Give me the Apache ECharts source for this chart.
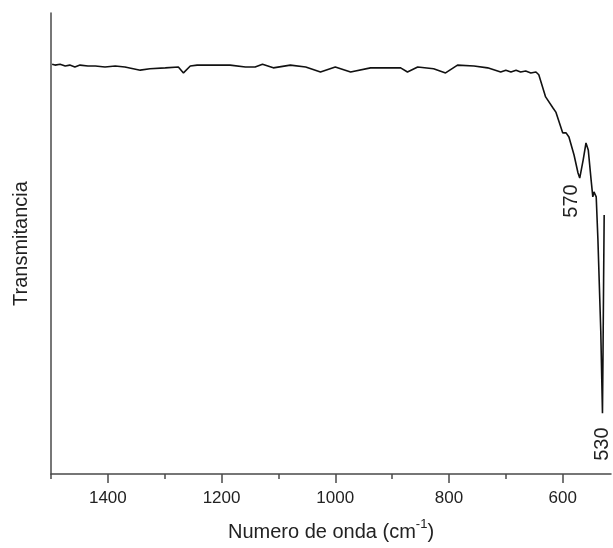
<!DOCTYPE html>
<html>
<head>
<meta charset="utf-8">
<script src="https://cdn.jsdelivr.net/npm/echarts@6/dist/echarts.min.js"></script>
<style>
  html, body { margin: 0; padding: 0; background: #fff; }
  #chart { width: 613px; height: 548px; }
</style>
</head>
<body>
<div id="chart"></div>
<script>
// FT-IR spectrum: wavenumber (cm^-1) vs. relative transmittance (arbitrary units)
const wavenumber = [
  1498, 1493, 1484, 1475, 1467, 1458, 1449, 1435, 1422, 1405, 1387, 1370,
  1343, 1326, 1299, 1276, 1267, 1255, 1243, 1185, 1158, 1141, 1128, 1109,
  1079, 1052, 1026, 1000, 973, 938, 885, 873, 855, 827, 806, 785, 756, 732,
  709, 700, 691, 682, 674, 665, 656, 647, 642, 630, 617, 612, 600, 594, 589,
  580, 573, 570, 564, 559, 555, 550, 547, 545, 541, 538, 533, 530, 529, 528, 527
];
const transmittance = [
  88.9, 88.7, 88.9, 88.5, 88.7, 88.3, 88.7, 88.5, 88.5, 88.3, 88.5, 88.3,
  87.6, 87.9, 88.1, 88.3, 87.0, 88.5, 88.7, 88.7, 88.3, 88.3, 88.9, 88.1,
  88.7, 88.3, 87.2, 88.3, 87.2, 88.1, 88.1, 87.2, 88.3, 87.9, 87.0, 88.7, 88.5, 88.1,
  87.2, 87.6, 87.2, 87.6, 87.2, 87.4, 87.0, 87.2, 86.6, 81.8, 79.4, 78.5, 74.0, 74.0, 73.1,
  69.2, 65.3, 64.2, 68.1, 71.8, 70.3, 63.8, 60.1, 61.2, 60.1, 50.8, 31.0, 13.2, 26.9, 42.0, 56.2
];
// Annotated absorption bands
const peakPositions = [570, 530];

// Axis ticks
const majorTicks = [600, 800, 1000, 1200, 1400];
const minorTicks = [700, 900, 1100, 1300, 1500];

const FONT = 'Liberation Sans, Arial, sans-serif';
const AXIS_COLOR = '#4a4a4a';

const points = wavenumber.map((w, i) => [w, transmittance[i]]);

// label offsets are given in the rotated (90°) text frame: [-down, right]
const labelOffsets = [[-23, -8], [-31, 0]];
const peakMarks = peakPositions.map((p, i) => ({
  coord: [p, transmittance[wavenumber.indexOf(p)]],
  value: p,
  label: { offset: labelOffsets[i] }
}));

const chart = echarts.init(document.getElementById('chart'));
chart.setOption({
  animation: false,
  backgroundColor: '#fff',
  grid: { left: 51, right: 2, top: 13, bottom: 74 },
  xAxis: [{
    type: 'value',
    inverse: true,
    min: 515,
    max: 1500,
    name: '{a|Numero de onda (cm}{s|-1}{a|)}',
    nameLocation: 'middle',
    nameGap: 44,
    nameTextStyle: {
      rich: {
        a: { fontFamily: FONT, fontSize: 20, color: '#222', lineHeight: 24, verticalAlign: 'bottom' },
        s: { fontFamily: FONT, fontSize: 13, color: '#222', lineHeight: 24, verticalAlign: 'top' }
      }
    },
    axisLine: { show: true, lineStyle: { color: AXIS_COLOR, width: 1.5 } },
    axisTick: { show: true, inside: false, length: 9, customValues: majorTicks,
                lineStyle: { color: AXIS_COLOR, width: 1.5 } },
    axisLabel: { show: true, customValues: majorTicks, margin: 16,
                 formatter: v => String(v),
                 fontFamily: FONT, fontSize: 17, color: '#222' },
    splitLine: { show: false }
  }, {
    // minor ticks drawn on an overlay axis sharing the same scale
    type: 'value',
    position: 'bottom',
    inverse: true,
    min: 515,
    max: 1500,
    axisLine: { show: false },
    axisTick: { show: true, length: 5, customValues: minorTicks,
                lineStyle: { color: AXIS_COLOR, width: 1.5 } },
    axisLabel: { show: true, customValues: minorTicks, formatter: () => '' },
    splitLine: { show: false }
  }],
  yAxis: {
    type: 'value',
    min: 0,
    max: 100,
    name: 'Transmitancia',
    nameLocation: 'middle',
    nameGap: 20,
    nameTextStyle: { fontFamily: FONT, fontSize: 20, color: '#222' },
    axisLine: { show: true, lineStyle: { color: AXIS_COLOR, width: 1.5 } },
    axisTick: { show: false },
    axisLabel: { show: false },
    splitLine: { show: false }
  },
  series: [{
    type: 'line',
    data: points,
    showSymbol: false,
    symbol: 'none',
    lineStyle: { color: '#111', width: 1.6 },
    markPoint: {
      symbol: 'circle',
      symbolSize: 0,
      label: {
        show: true,
        rotate: 90,
        position: 'inside',
        formatter: p => String(p.value),
        fontFamily: FONT,
        fontSize: 20,
        color: '#222'
      },
      data: peakMarks
    }
  }]
});
</script>
</body>
</html>
